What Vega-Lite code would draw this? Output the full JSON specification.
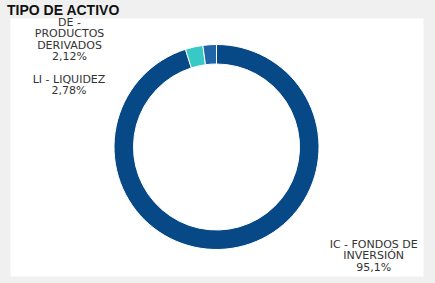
{
  "$schema": "https://vega.github.io/schema/vega-lite/v6.json",
  "autosize": {"type": "none"},
  "width": 413,
  "height": 258,
  "padding": {"left": 10, "top": 18, "right": 12, "bottom": 7},
  "background": "#f0f0f0",
  "view": {"fill": "white", "stroke": "transparent"},
  "title": {
    "text": "TIPO DE ACTIVO",
    "anchor": "start",
    "frame": "group",
    "font": "Liberation Sans",
    "fontSize": 14,
    "fontWeight": "bold",
    "color": "#111111",
    "offset": 1,
    "dx": -3,
    "dy": 2
  },
  "data": {
    "values": [
      {"categoria": "IC - FONDOS DE INVERSIÓN", "valor": 95.1},
      {"categoria": "LI - LIQUIDEZ", "valor": 2.78},
      {"categoria": "DE - PRODUCTOS DERIVADOS", "valor": 2.12}
    ]
  },
  "transform": [
    {"stack": "valor", "groupby": [], "sort": [{"field": "valor", "order": "descending"}], "as": ["inicio", "fin"]}
  ],
  "encoding": {
    "theta": {"field": "inicio", "type": "quantitative", "scale": {"domain": [0, 100]}}
  },
  "layer": [
    {
      "mark": {"type": "arc", "radius": 102.5, "innerRadius": 83, "stroke": "white", "strokeWidth": 1},
      "encoding": {
        "theta2": {"field": "fin"},
        "color": {
          "field": "categoria",
          "type": "nominal",
          "legend": null,
          "scale": {
            "domain": ["IC - FONDOS DE INVERSIÓN", "LI - LIQUIDEZ", "DE - PRODUCTOS DERIVADOS"],
            "range": ["#074887", "#36c9c6", "#1f64a6"]
          }
        }
      }
    },
    {
      "transform": [{"filter": "datum.valor > 50"}],
      "mark": {"type": "text", "radius": 115, "dx": 157.2, "dy": 212.5, "align": "center", "baseline": "middle", "font": "DejaVu Sans", "fontSize": 11, "lineHeight": 11.5, "color": "#333333"},
      "encoding": {"text": {"value": ["IC - FONDOS DE", "INVERSIÓN", "95,1%"]}}
    },
    {
      "transform": [{"filter": "datum.categoria == 'LI - LIQUIDEZ'"}],
      "mark": {"type": "text", "radius": 115, "dx": -112.6, "dy": 42.1, "align": "center", "baseline": "middle", "font": "DejaVu Sans", "fontSize": 11, "lineHeight": 11.2, "color": "#333333"},
      "encoding": {"text": {"value": ["LI - LIQUIDEZ", "2,78%"]}}
    },
    {
      "transform": [{"filter": "datum.categoria == 'DE - PRODUCTOS DERIVADOS'"}],
      "mark": {"type": "text", "radius": 115, "dx": -131.7, "dy": -10.5, "align": "center", "baseline": "middle", "font": "DejaVu Sans", "fontSize": 11, "lineHeight": 11.5, "color": "#333333"},
      "encoding": {"text": {"value": ["DE -", "PRODUCTOS", "DERIVADOS", "2,12%"]}}
    }
  ]
}
